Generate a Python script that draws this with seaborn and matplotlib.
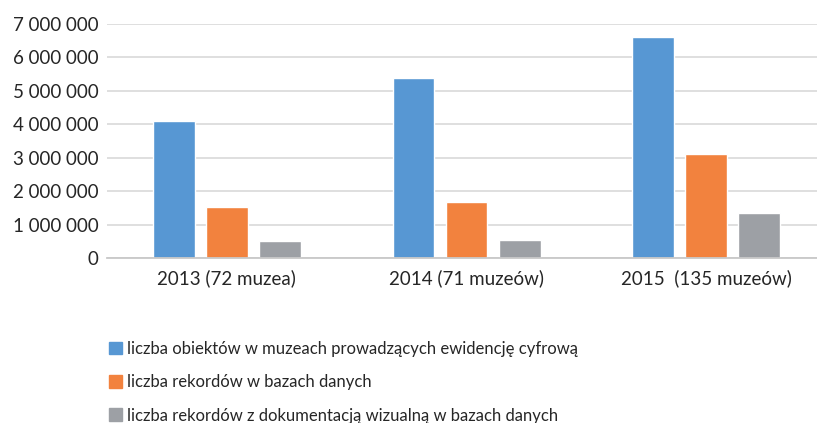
import numpy as np
import pandas as pd
import matplotlib as mpl
import matplotlib.pyplot as plt
import seaborn as sns
from matplotlib.patches import Rectangle
from matplotlib.ticker import FuncFormatter

categories = ['2013 (72 muzea)', '2014 (71 muzeów)', '2015  (135 muzeów)']
series = ['liczba obiektów w muzeach prowadzących ewidencję cyfrową',
          'liczba rekordów w bazach danych',
          'liczba rekordów z dokumentacją wizualną w bazach danych']
obiekty = [4080000, 5380000, 6610000]
rekordy = [1530000, 1660000, 3110000]
wizualne = [520000, 550000, 1350000]
colors = ['#5797D3', '#F2823E', '#9DA0A5']

df = pd.DataFrame({
    'rok': categories * 3,
    'seria': [s for s in series for _ in categories],
    'wartosc': obiekty + rekordy + wizualne,
})

sns.set_style('white')
plt.rcParams['font.family'] = ['Lato', 'DejaVu Sans']

fig = plt.figure(figsize=(8.17, 4.23), dpi=100)
ax = fig.add_axes([0.131, 0.39, 0.88, 0.554])

sns.barplot(data=df, x='rok', y='wartosc', hue='seria', hue_order=series,
            palette=colors, width=0.664, gap=0.21, saturation=1,
            legend=False, ax=ax)

ax.set_ylim(0, 7000000)
ax.set_yticks(np.arange(0, 7000001, 1000000))
ax.yaxis.set_major_formatter(FuncFormatter(lambda v, p: f'{int(v):,}'.replace(',', ' ')))
ax.grid(axis='y', color='#d9d9d9', linewidth=1.2)
ax.set_axisbelow(True)
for s in ['top', 'right', 'left']:
    ax.spines[s].set_visible(False)
ax.spines['bottom'].set_color('#c8c8c8')
ax.spines['bottom'].set_linewidth(1.3)
ax.tick_params(axis='both', length=0, labelsize=13.5, colors='#262626')
ax.tick_params(axis='x', pad=8)
ax.tick_params(axis='y', pad=6)
ax.set_xlabel('')
ax.set_ylabel('')

handles = [Rectangle((0, 0), 1, 1, color=c) for c in colors]
fig.legend(handles, series, loc='upper left', bbox_to_anchor=(0.125, 0.21),
           frameon=False, fontsize=12, handlelength=0.8, handleheight=0.8,
           handletextpad=0.3, labelspacing=1.04, borderaxespad=0,
           labelcolor='#262626')

fig.savefig('out.png', dpi=100)
